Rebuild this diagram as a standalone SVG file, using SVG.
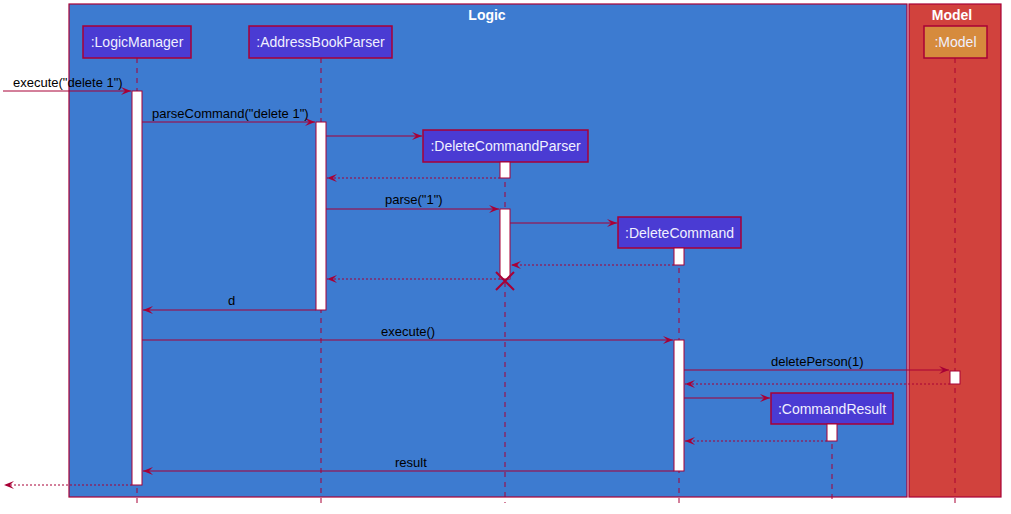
<svg xmlns="http://www.w3.org/2000/svg" width="1011" height="514" viewBox="0 0 1011 514">
<defs>
<marker id="ah" markerWidth="12" markerHeight="10" refX="11" refY="5" orient="auto" markerUnits="userSpaceOnUse">
<polygon points="1,1 11,5 1,9 5,5" fill="#A80036"/>
</marker>
</defs>
<style>
.box{stroke:#A80036;stroke-width:1.2}
.pt{fill:#4A3BD3;stroke:#A80036;stroke-width:1.5}
.pm{fill:#D68B3D;stroke:#A80036;stroke-width:1.5}
.pl{font-family:"Liberation Sans",Arial,sans-serif;font-size:14px;fill:#F0F0FF}
.life{stroke:#A80036;stroke-width:1;stroke-dasharray:5,5}
.act{fill:#FFFFFF;stroke:#A80036;stroke-width:1}
.msg{stroke:#A80036;stroke-width:1;fill:none;marker-end:url(#ah)}
.ret{stroke:#A80036;stroke-width:1;fill:none;stroke-dasharray:2,2;marker-end:url(#ah)}
.lbl{font-family:"Liberation Sans",Arial,sans-serif;font-size:13px;fill:#000000}
.ttl{font-family:"Liberation Sans",Arial,sans-serif;font-size:14px;font-weight:bold;fill:#FFFFFF}
</style>
<rect width="1011" height="514" fill="#FFFFFF"/>
<g id="logic-box">
<rect class="box" x="69" y="4" width="838" height="493" fill="#3D7BD0"/>
<text class="ttl" x="487" y="20" text-anchor="middle">Logic</text>
</g>
<g id="model-box">
<rect class="box" x="909" y="4" width="92" height="493" fill="#D1423D"/>
<text class="ttl" x="952" y="20" text-anchor="middle">Model</text>
</g>
<g id="lifelines">
<line class="life" x1="137" y1="58" x2="137" y2="503"/>
<line class="life" x1="321" y1="58" x2="321" y2="503"/>
<line class="life" x1="505" y1="162" x2="505" y2="503"/>
<line class="life" x1="679" y1="248" x2="679" y2="503"/>
<line class="life" x1="832" y1="424" x2="832" y2="503"/>
<line class="life" x1="955" y1="58" x2="955" y2="503"/>
</g>
<g id="LogicManager">
<rect class="pt" x="83" y="26" width="108" height="32"/>
<text class="pl" x="137" y="47" text-anchor="middle">:LogicManager</text>
</g>
<g id="AddressBookParser">
<rect class="pt" x="249" y="26" width="143" height="32"/>
<text class="pl" x="320.5" y="47" text-anchor="middle">:AddressBookParser</text>
</g>
<g id="DeleteCommandParser">
<rect class="pt" x="423" y="130" width="165" height="32"/>
<text class="pl" x="505.5" y="151" text-anchor="middle">:DeleteCommandParser</text>
</g>
<g id="DeleteCommand">
<rect class="pt" x="618" y="217" width="123" height="31"/>
<text class="pl" x="679.5" y="238" text-anchor="middle">:DeleteCommand</text>
</g>
<g id="CommandResult">
<rect class="pt" x="771" y="393" width="122" height="31"/>
<text class="pl" x="832" y="414" text-anchor="middle">:CommandResult</text>
</g>
<g id="Model">
<rect class="pm" x="924" y="26" width="63" height="32"/>
<text class="pl" x="955.5" y="47" text-anchor="middle">:Model</text>
</g>
<g id="activations">
<rect class="act" x="132" y="91" width="10" height="394"/>
<rect class="act" x="316" y="122" width="10" height="188"/>
<rect class="act" x="500" y="162" width="10" height="16"/>
<rect class="act" x="500" y="209" width="10" height="70"/>
<rect class="act" x="674" y="248" width="10" height="17"/>
<rect class="act" x="674" y="340" width="10" height="131"/>
<rect class="act" x="950" y="371" width="10" height="13"/>
<rect class="act" x="827" y="424" width="10" height="17"/>
</g>
<g id="connectors">
<line class="msg" x1="3" y1="91" x2="131" y2="91"/>
<line class="msg" x1="142" y1="122" x2="315" y2="122"/>
<line class="msg" x1="326" y1="136" x2="422" y2="136"/>
<line class="ret" x1="500" y1="178" x2="327" y2="178"/>
<line class="msg" x1="326" y1="209" x2="499" y2="209"/>
<line class="msg" x1="510" y1="223" x2="617" y2="223"/>
<line class="ret" x1="674" y1="265" x2="511" y2="265"/>
<line class="ret" x1="500" y1="279" x2="327" y2="279"/>
<line class="msg" x1="316" y1="310" x2="143" y2="310"/>
<line class="msg" x1="142" y1="340" x2="673" y2="340"/>
<line class="msg" x1="684" y1="370" x2="949" y2="370"/>
<line class="ret" x1="950" y1="384" x2="685" y2="384"/>
<line class="msg" x1="684" y1="398" x2="770" y2="398"/>
<line class="ret" x1="827" y1="441" x2="685" y2="441"/>
<line class="msg" x1="674" y1="471" x2="143" y2="471"/>
<line class="ret" x1="132" y1="485" x2="4" y2="485"/>
<path d="M496,272 L514,290 M514,272 L496,290" stroke="#A80036" stroke-width="2" fill="none"/>
</g>
<g id="labels">
<text class="lbl" x="13" y="87">execute("delete 1")</text>
<text class="lbl" x="152" y="118">parseCommand("delete 1")</text>
<text class="lbl" x="385" y="204">parse("1")</text>
<text class="lbl" x="228" y="305">d</text>
<text class="lbl" x="381" y="336">execute()</text>
<text class="lbl" x="771" y="366">deletePerson(1)</text>
<text class="lbl" x="395" y="467">result</text>
</g>
</svg>
